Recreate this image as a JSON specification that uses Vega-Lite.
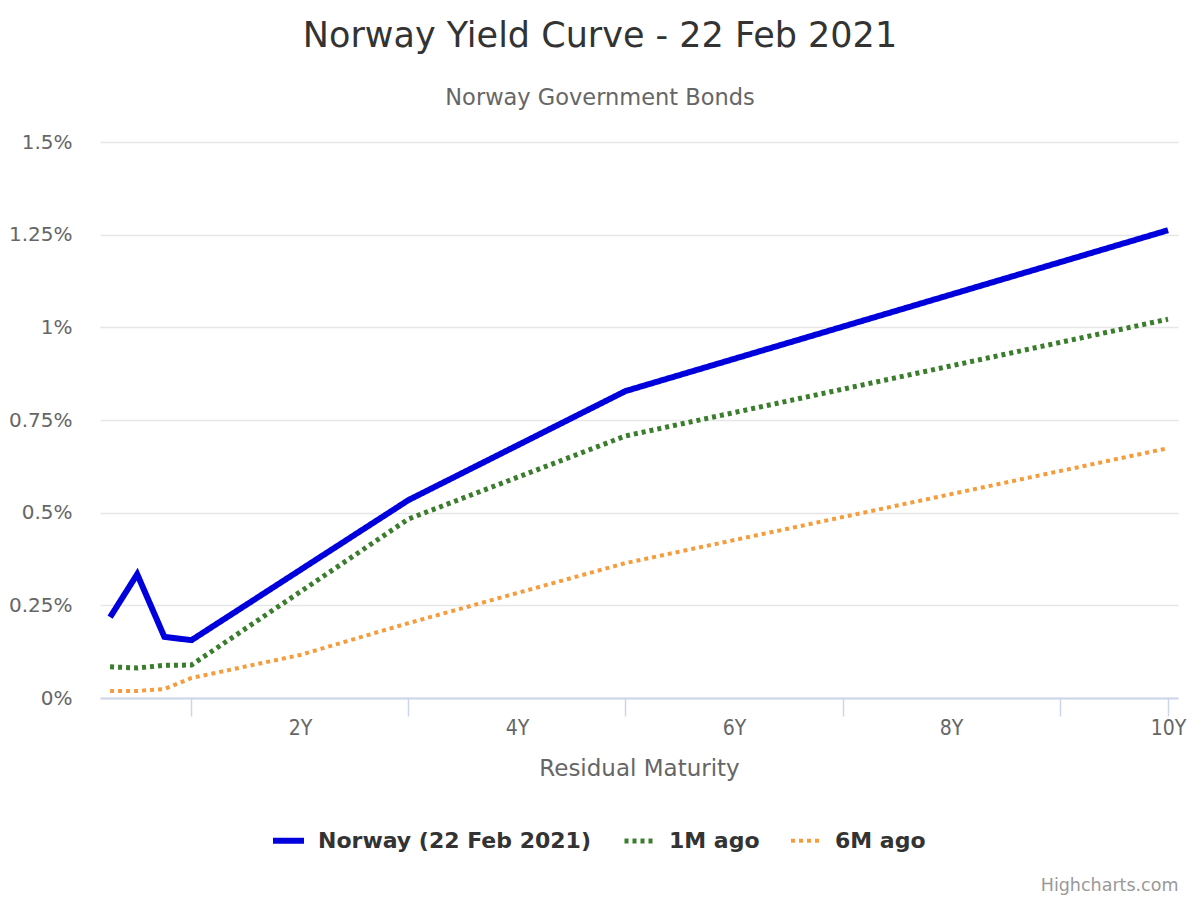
{
  "$schema": "https://vega.github.io/schema/vega-lite/v6.json",
  "width": 1078,
  "height": 556,
  "autosize": {"type": "none"},
  "padding": {"left": 100, "top": 142, "right": 22, "bottom": 202},
  "background": "white",
  "title": {
    "text": "Norway Yield Curve - 22 Feb 2021",
    "subtitle": "Norway Government Bonds",
    "anchor": "middle",
    "frame": "group",
    "dx": -39,
    "offset": 23,
    "font": "DejaVu Sans",
    "fontSize": 35,
    "fontWeight": "normal",
    "color": "#333333",
    "subtitleFont": "DejaVu Sans",
    "subtitleFontSize": 22.5,
    "subtitleColor": "#666666",
    "subtitlePadding": 33
  },
  "config": {
    "view": {"stroke": null},
    "font": "DejaVu Sans"
  },
  "data": {
    "values": [
      {"series": "Norway (22 Feb 2021)", "maturity": 0.25, "yield": 0.218},
      {"series": "Norway (22 Feb 2021)", "maturity": 0.5, "yield": 0.334},
      {"series": "Norway (22 Feb 2021)", "maturity": 0.75, "yield": 0.165},
      {"series": "Norway (22 Feb 2021)", "maturity": 1, "yield": 0.156},
      {"series": "Norway (22 Feb 2021)", "maturity": 3, "yield": 0.534},
      {"series": "Norway (22 Feb 2021)", "maturity": 5, "yield": 0.828},
      {"series": "Norway (22 Feb 2021)", "maturity": 10, "yield": 1.262},
      {"series": "1M ago", "maturity": 0.25, "yield": 0.084},
      {"series": "1M ago", "maturity": 0.5, "yield": 0.081},
      {"series": "1M ago", "maturity": 0.75, "yield": 0.088},
      {"series": "1M ago", "maturity": 1, "yield": 0.089},
      {"series": "1M ago", "maturity": 3, "yield": 0.483},
      {"series": "1M ago", "maturity": 5, "yield": 0.707},
      {"series": "1M ago", "maturity": 10, "yield": 1.022},
      {"series": "6M ago", "maturity": 0.25, "yield": 0.019},
      {"series": "6M ago", "maturity": 0.5, "yield": 0.019},
      {"series": "6M ago", "maturity": 0.75, "yield": 0.024},
      {"series": "6M ago", "maturity": 1, "yield": 0.054},
      {"series": "6M ago", "maturity": 2, "yield": 0.116},
      {"series": "6M ago", "maturity": 3, "yield": 0.202},
      {"series": "6M ago", "maturity": 5, "yield": 0.364},
      {"series": "6M ago", "maturity": 10, "yield": 0.674}
    ]
  },
  "layer": [
    {
      "mark": {"type": "line", "strokeCap": "butt", "strokeJoin": "miter"},
      "encoding": {
        "x": {
          "field": "maturity",
          "type": "quantitative",
          "scale": {"domain": [0.157, 10.092], "nice": false, "zero": false},
          "axis": {
            "orient": "bottom",
            "values": [2, 4, 6, 8, 10],
            "labelExpr": "datum.value + 'Y'",
            "ticks": false,
            "grid": false,
            "domain": true,
            "domainColor": "#ccd6eb",
            "domainWidth": 2,
            "labelPadding": 19,
            "labelFont": "DejaVu Sans Condensed",
            "labelFontSize": 21,
            "labelColor": "#666666",
            "labelBaseline": "top",
            "title": "Residual Maturity",
            "titleFont": "DejaVu Sans",
            "titleFontSize": 23,
            "titleFontWeight": "normal",
            "titleColor": "#666666",
            "titlePadding": 19
          }
        },
        "y": {
          "field": "yield",
          "type": "quantitative",
          "scale": {"domain": [0, 1.5], "nice": false},
          "axis": {
            "values": [0, 0.25, 0.5, 0.75, 1, 1.25, 1.5],
            "labelExpr": "datum.value + '%'",
            "ticks": false,
            "domain": false,
            "grid": true,
            "gridColor": "#e6e6e6",
            "gridWidth": 1.5,
            "labelPadding": 28,
            "labelFont": "DejaVu Sans",
            "labelFontSize": 20,
            "labelColor": "#666666",
            "title": null
          }
        },
        "color": {
          "field": "series",
          "type": "nominal",
          "scale": {
            "domain": ["Norway (22 Feb 2021)", "1M ago", "6M ago"],
            "range": ["#0000dd", "#3a7d2c", "#f59c3c"]
          },
          "legend": {
            "orient": "none",
            "legendX": 170,
            "legendY": 680,
            "direction": "horizontal",
            "title": null,
            "symbolType": "stroke",
            "symbolSize": 960,
            "symbolStrokeWidth": 5,
            "columnPadding": 23,
            "labelOffset": 11,
            "labelFont": "DejaVu Sans",
            "labelFontSize": 22,
            "labelFontWeight": "bold",
            "labelColor": "#333333",
            "labelLimit": 400
          }
        },
        "strokeDash": {
          "field": "series",
          "type": "nominal",
          "scale": {
            "domain": ["Norway (22 Feb 2021)", "1M ago", "6M ago"],
            "range": [[1, 0], [4, 4], [4, 4]]
          },
          "legend": null
        },
        "strokeWidth": {
          "field": "series",
          "type": "nominal",
          "scale": {
            "domain": ["Norway (22 Feb 2021)", "1M ago", "6M ago"],
            "range": [6, 4, 4]
          },
          "legend": null
        }
      }
    },
    {
      "mark": {"type": "point", "opacity": 0},
      "encoding": {
        "x": {
          "field": "maturity",
          "type": "quantitative",
          "axis": {
            "orient": "bottom",
            "values": [1, 3, 5, 7, 9, 10],
            "labels": false,
            "ticks": true,
            "tickSize": 18,
            "tickColor": "#ccd6eb",
            "tickWidth": 1.5,
            "domain": false,
            "grid": false,
            "title": "Highcharts.com",
            "titleAnchor": "end",
            "titleAlign": "right",
            "titleBaseline": "alphabetic",
            "titleX": 1078,
            "titleY": 192,
            "titleFont": "DejaVu Sans",
            "titleFontSize": 17.5,
            "titleFontWeight": "normal",
            "titleColor": "#999999"
          }
        },
        "y": {"field": "yield", "type": "quantitative"}
      }
    }
  ],
  "resolve": {"axis": {"x": "independent"}}
}
